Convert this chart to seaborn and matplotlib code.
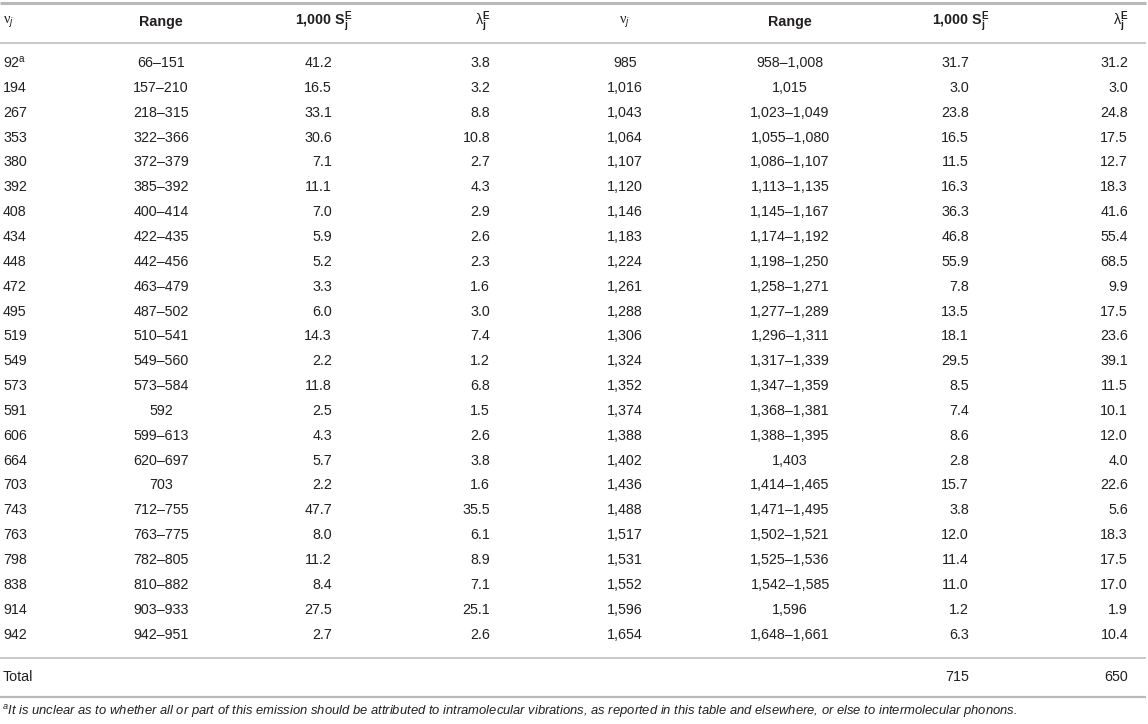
import matplotlib
matplotlib.use("Agg")
import matplotlib.pyplot as plt
import seaborn as sns

# left half of the table
nu_left = ["92", "194", "267", "353", "380", "392", "408", "434", "448", "472", "495", "519",
           "549", "573", "591", "606", "664", "703", "743", "763", "798", "838", "914", "942"]
range_left = ["66–151", "157–210", "218–315", "322–366", "372–379", "385–392", "400–414",
              "422–435", "442–456", "463–479", "487–502", "510–541", "549–560", "573–584",
              "592", "599–613", "620–697", "703", "712–755", "763–775", "782–805", "810–882",
              "903–933", "942–951"]
s_left = [41.2, 16.5, 33.1, 30.6, 7.1, 11.1, 7.0, 5.9, 5.2, 3.3, 6.0, 14.3,
          2.2, 11.8, 2.5, 4.3, 5.7, 2.2, 47.7, 8.0, 11.2, 8.4, 27.5, 2.7]
lam_left = [3.8, 3.2, 8.8, 10.8, 2.7, 4.3, 2.9, 2.6, 2.3, 1.6, 3.0, 7.4,
            1.2, 6.8, 1.5, 2.6, 3.8, 1.6, 35.5, 6.1, 8.9, 7.1, 25.1, 2.6]

# right half of the table
nu_right = ["985", "1,016", "1,043", "1,064", "1,107", "1,120", "1,146", "1,183", "1,224",
            "1,261", "1,288", "1,306", "1,324", "1,352", "1,374", "1,388", "1,402", "1,436",
            "1,488", "1,517", "1,531", "1,552", "1,596", "1,654"]
range_right = ["958–1,008", "1,015", "1,023–1,049", "1,055–1,080", "1,086–1,107",
               "1,113–1,135", "1,145–1,167", "1,174–1,192", "1,198–1,250", "1,258–1,271",
               "1,277–1,289", "1,296–1,311", "1,317–1,339", "1,347–1,359", "1,368–1,381",
               "1,388–1,395", "1,403", "1,414–1,465", "1,471–1,495", "1,502–1,521",
               "1,525–1,536", "1,542–1,585", "1,596", "1,648–1,661"]
s_right = [31.7, 3.0, 23.8, 16.5, 11.5, 16.3, 36.3, 46.8, 55.9, 7.8, 13.5, 18.1,
           29.5, 8.5, 7.4, 8.6, 2.8, 15.7, 3.8, 12.0, 11.4, 11.0, 1.2, 6.3]
lam_right = [31.2, 3.0, 24.8, 17.5, 12.7, 18.3, 41.6, 55.4, 68.5, 9.9, 17.5, 23.6,
             39.1, 11.5, 10.1, 12.0, 4.0, 22.6, 5.6, 18.3, 17.5, 17.0, 1.9, 10.4]

total_s = 715
total_lam = 650
footnote = ("It is unclear as to whether all or part of this emission should be attributed to "
            "intramolecular vibrations, as reported in this table and elsewhere, or else to "
            "intermolecular phonons.")

sns.set_theme(style="white")
plt.rcParams["font.family"] = ["Liberation Sans", "DejaVu Sans"]
plt.rcParams["mathtext.fontset"] = "custom"
plt.rcParams["mathtext.rm"] = "Liberation Sans"
plt.rcParams["mathtext.it"] = "Liberation Sans:italic"
plt.rcParams["mathtext.bf"] = "Liberation Sans:bold"
plt.rcParams["mathtext.sf"] = "Liberation Sans"

W, H = 1148, 724
fig = plt.figure(figsize=(W / 100, H / 100), dpi=100)
ax = fig.add_axes([0, 0, 1, 1])
ax.set_xlim(0, W)
ax.set_ylim(H, 0)
ax.axis("off")

fs = 10.3
tc = "#231f20"
line_c = "#b9b9b9"

# layout: (x, alignment) for each column
cols = [(3, "left"), (161, "center"), (332, "right"), (490, "right"),
        (625, "center"), (790, "center"), (969, "right"), (1128, "right")]

y_head = 22
y_first = 63
pitch = 24.85

# rules
ax.hlines(2.5, 0, W - 2, color=line_c, lw=2.2)
ax.hlines(42.5, 0, W - 2, color=line_c, lw=1.1)
ax.hlines(658, 0, W - 2, color=line_c, lw=1.1)
ax.hlines(697, 0, W - 2, color=line_c, lw=1.6)

# header
sj = r"1,000 S$_\mathbf{j}^\mathbf{E}$"
lj = r"λ$_\mathbf{j}^\mathbf{E}$"
nj = r"ν$_j$"
heads = [nj, "Range", sj, lj, nj, "Range", sj, lj]
head_dx = [0, 0, 20, 0, 0, 0, 20, 0]
for (x, ha), h, dx in zip(cols, heads, head_dx):
    weight = "normal" if h in (nj, lj) else "bold"
    fam = ["Liberation Serif"] if h == nj else ["Liberation Sans"]
    ax.text(x + dx, y_head, h, ha=ha, va="center", fontsize=fs, color=tc,
            fontweight=weight, family=fam)

# body
for i in range(len(nu_left)):
    y = y_first + i * pitch
    nu = nu_left[i] + (r"$^\mathrm{a}$" if i == 0 else "")
    row = [nu, range_left[i], f"{s_left[i]:.1f}", f"{lam_left[i]:.1f}",
           nu_right[i], range_right[i], f"{s_right[i]:.1f}", f"{lam_right[i]:.1f}"]
    for (x, ha), val in zip(cols, row):
        ax.text(x, y, val, ha=ha, va="center", fontsize=fs, color=tc)

# total row
ax.text(cols[0][0], 677, "Total", ha="left", va="center", fontsize=fs, color=tc)
ax.text(cols[6][0], 677, str(total_s), ha="right", va="center", fontsize=fs, color=tc)
ax.text(cols[7][0], 677, str(total_lam), ha="right", va="center", fontsize=fs, color=tc)

# footnote
ax.text(2, 712, r"$^\mathit{a}$" + footnote, ha="left", va="center", fontsize=9.35,
        style="italic", color=tc)

fig.savefig("out.png", dpi=100)
